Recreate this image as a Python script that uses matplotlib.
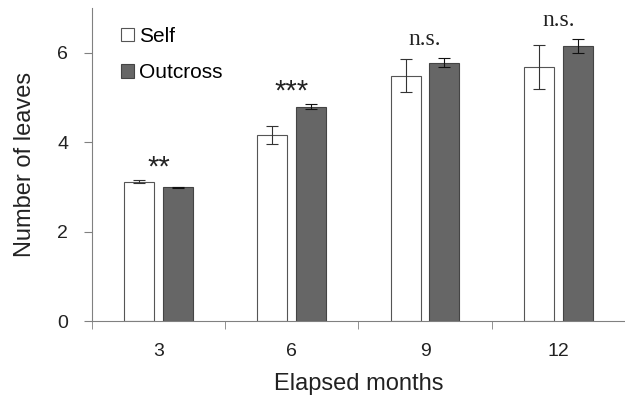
import matplotlib
matplotlib.use("Agg")
import matplotlib.pyplot as plt
import numpy as np

months = ["3", "6", "9", "12"]
self_vals = [3.12, 4.16, 5.48, 5.68]
self_err = [0.03, 0.20, 0.37, 0.50]
out_vals = [2.99, 4.79, 5.78, 6.15]
out_err = [0.01, 0.06, 0.11, 0.15]
signif = ["**", "***", "n.s.", "n.s."]

plt.rcParams['font.family'] = ['Liberation Sans', 'DejaVu Sans']

fig = plt.figure(figsize=(6.25, 3.96), dpi=100)
ax = fig.add_axes([0.147, 0.189, 0.853, 0.791])

x = np.arange(len(months))
w = 0.225
off = 0.145
gray = '#808080'
ax.bar(x - off, self_vals, w, color='white', edgecolor='#555555', linewidth=0.8,
       yerr=self_err, error_kw=dict(ecolor='#333333', elinewidth=0.8, capsize=4, capthick=0.8),
       label='Self')
ax.bar(x + off, out_vals, w, color='#666666', edgecolor='#444444', linewidth=0.8,
       yerr=out_err, error_kw=dict(ecolor='#111111', elinewidth=0.8, capsize=4, capthick=0.8),
       label='Outcross')

for i, s in enumerate(signif):
    top = max(self_vals[i] + self_err[i], out_vals[i] + out_err[i])
    if s == "n.s.":
        ax.text(x[i], top + 0.29, s, ha='center', va='baseline', fontsize=17,
                family='Liberation Serif', color='#222222')
    else:
        ax.text(x[i], top + 0.1, s, ha='center', va='baseline', fontsize=21,
                color='#222222')

ax.set_xlim(-0.5, 3.5)
ax.set_ylim(0, 7)
ax.set_yticks([0, 2, 4, 6])
ax.set_xticks(x)
ax.set_xticklabels(months)
ax.set_xticks(np.arange(-0.5, 3.6, 1.0), minor=True)
ax.tick_params(axis='x', which='major', length=0, labelsize=14, pad=16, colors='#222222')
ax.tick_params(axis='x', which='minor', length=6, direction='out', color=gray)
ax.tick_params(axis='y', length=6, direction='out', color=gray, labelsize=14,
               labelcolor='#222222', pad=11)
for sp in ['top', 'right']:
    ax.spines[sp].set_visible(False)
for sp in ['left', 'bottom']:
    ax.spines[sp].set_color(gray)

ax.set_xlabel('Elapsed months', fontsize=17, color='#222222', labelpad=9)
ax.set_ylabel('Number of leaves', fontsize=17, color='#222222', labelpad=15)

ax.legend(loc='upper left', bbox_to_anchor=(0.02, 1.0), frameon=False, fontsize=15,
          handlelength=0.6, handleheight=0.6, labelspacing=0.85, handletextpad=0.25)

fig.savefig("out.png", dpi=100)
